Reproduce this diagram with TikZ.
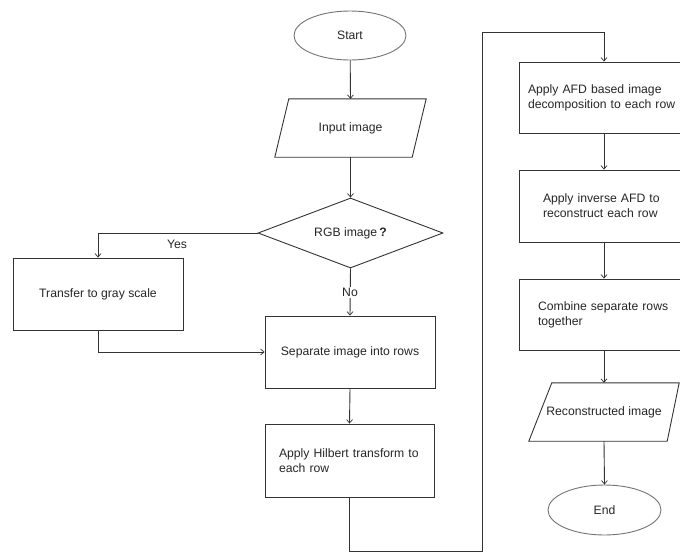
\documentclass[tikz,border=0pt]{standalone}
\usepackage{fontspec}
\setmainfont{Liberation Sans}
\usetikzlibrary{shapes.geometric,arrows.meta,calc}
\begin{document}
\begin{tikzpicture}[x=1pt,y=-1pt,
  font=\fontsize{12.2}{15}\selectfont,
  every node/.style={text=black!85},
  line/.style={draw=black!80, line width=0.9pt},
  arr/.style={line, -{Straight Barb[length=3.5pt,width=6pt,line width=0.7pt]}},
  term/.style={ellipse, draw=black!55, line width=0.9pt, inner sep=0pt},
  procbox/.style={rectangle, line, inner ysep=0pt, minimum height=72pt},
  iobox/.style={rectangle, draw=none, inner sep=0pt, minimum height=58pt},
  decision/.style={diamond, line, inner sep=0pt, minimum width=185pt, minimum height=70pt, aspect=2.6},
  lbl/.style={inner sep=1pt}
]
\useasboundingbox (0,0) rectangle (680,552);

% left column
\node[term, minimum width=112pt, minimum height=49pt] (start) at (350,35.5) {Start};
\node[iobox, minimum width=151pt] (in) at (350.5,128) {Input image};
\draw[line] (in.south west) -- ([xshift=14pt]in.north west) -- (in.north east) -- ([xshift=-14pt]in.south east) -- cycle;
\node[decision] (rgb) at (350.5,233) {RGB image\,\textbf{?}};
\node[procbox, minimum width=170pt, minimum height=72pt] (gray) at (98,294) {Transfer to gray scale};
\node[procbox, minimum width=170pt, minimum height=72pt] (sep) at (350,352) {Separate image into rows};
\node[procbox, minimum height=73pt, inner xsep=14pt, text width=141pt, align=left] (hil) at (349.5,460.5)
  {\mbox{Apply Hilbert transform to}\\each row};

% right column
\node[procbox, minimum height=71pt, inner xsep=9pt, text width=152pt, align=left] (afd) at (604,97.5)
  {\mbox{Apply AFD based image}\\\mbox{decomposition to each row}};
\node[procbox, minimum height=72pt, inner xsep=24pt, text width=122pt, align=left] (inv) at (604,206)
  {\mbox{Apply inverse AFD to}\\\mbox{reconstruct each row}};
\node[procbox, minimum height=71pt, inner xsep=19pt, text width=132pt, align=left] (comb) at (604,314.5)
  {\mbox{Combine separate rows}\\together};
\node[iobox, minimum width=150pt] (rec) at (604,412) {Reconstructed image};
\draw[line] (rec.south west) -- ([xshift=23pt]rec.north west) -- (rec.north east) -- ([xshift=-12pt]rec.south east) -- cycle;
\node[term, minimum width=113pt, minimum height=50pt] (end) at (604.5,510) {End};

% connectors
\draw[arr] (start) -- (in.north);
\draw[arr] (in.south) -- (rgb.north);
\draw[arr] (rgb.west) -| (gray.north);
\node[lbl] (yes) at (177,244) {Yes};
\draw[arr] (rgb.south) -- (sep.north);
\node[lbl, fill=white] (no) at (350,292.5) {No};
\draw[arr] (gray.south) |- (sep.west);
\draw[arr] (sep.south) -- (hil.north);
\coordinate (c1) at (349.5,551.5);
\coordinate (c2) at (482,551.5);
\coordinate (c3) at (482,32);
\coordinate (c4) at (604,32);
\draw[arr] (hil.south) -- (c1) -- (c2) -- (c3) -- (c4) -- (afd.north);
\draw[arr] (afd.south) -- (inv.north);
\draw[arr] (inv.south) -- (comb.north);
\draw[arr] (comb.south) -- (rec.north);
\draw[arr] (rec.south) -- (end.north);
\end{tikzpicture}
\end{document}
